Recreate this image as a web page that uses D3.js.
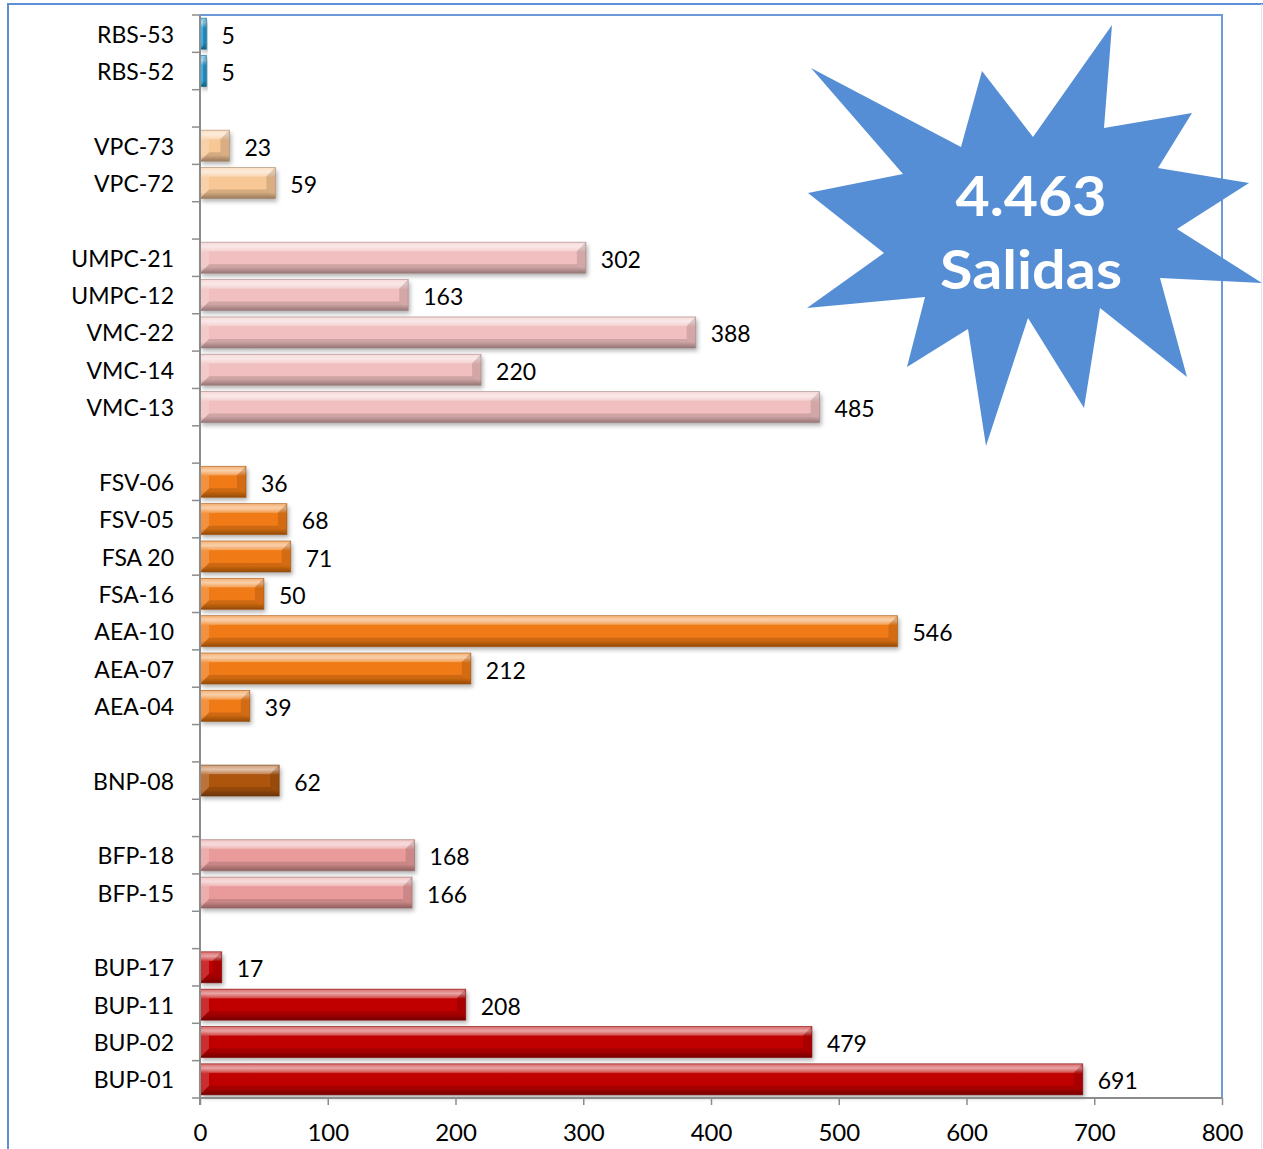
<!DOCTYPE html>
<html>
<head>
<meta charset="utf-8">
<script src="https://cdn.jsdelivr.net/npm/d3@7"></script>
<style>
  html, body { margin: 0; padding: 0; background: #ffffff; }
  svg { display: block; }
  text { font-family: Lato, "Open Sans", sans-serif; fill: #000; }
</style>
</head>
<body>
<script>
// Rows of the chart, top to bottom; empty strings are spacer rows between groups
const categories = ["RBS-53", "RBS-52", "", "VPC-73", "VPC-72", "",
  "UMPC-21", "UMPC-12", "VMC-22", "VMC-14", "VMC-13", "",
  "FSV-06", "FSV-05", "FSA 20", "FSA-16", "AEA-10", "AEA-07", "AEA-04", "",
  "BNP-08", "", "BFP-18", "BFP-15", "", "BUP-17", "BUP-11", "BUP-02", "BUP-01"];
const values = [5, 5, null, 23, 59, null,
  302, 163, 388, 220, 485, null,
  36, 68, 71, 50, 546, 212, 39, null,
  62, null, 168, 166, null, 17, 208, 479, 691];
const groups = ["RBS", "RBS", null, "VPC", "VPC", null,
  "UMV", "UMV", "UMV", "UMV", "UMV", null,
  "FA", "FA", "FA", "FA", "FA", "FA", "FA", null,
  "BNP", null, "BFP", "BFP", null, "BUP", "BUP", "BUP", "BUP"];
const xTicks = [0, 100, 200, 300, 400, 500, 600, 700, 800];
const totalCaption = "Salidas";

// Fill colour for each group
const groupColor = {
  RBS: "#1b9bd6", VPC: "#f8c796", UMV: "#f1bfbf", FA: "#f07a12",
  BNP: "#ad540f", BFP: "#e99b9b", BUP: "#c00000"
};

const W = 1263, H = 1149;
const plot = { left: 200, right: 1222, top: 15, bottom: 1098 };

const svg = d3.select("body").append("svg").attr("width", W).attr("height", H);
const defs = svg.append("defs");

// Soft shadow under the bars
const shadow = defs.append("filter").attr("id", "barShadow")
  .attr("x", "-10%").attr("y", "-30%").attr("width", "130%").attr("height", "180%");
shadow.append("feDropShadow").attr("dx", 2).attr("dy", 3).attr("stdDeviation", 2)
  .attr("flood-color", "#000").attr("flood-opacity", 0.3);

// Vertical shading for the bevelled bars
Object.entries(groupColor).forEach(([k, c]) => {
  const white = d3.interpolateRgb(c, "#ffffff");
  const black = d3.interpolateRgb(c, "#000000");
  const g = defs.append("linearGradient").attr("id", "grad-" + k)
    .attr("x1", 0).attr("y1", 0).attr("x2", 0).attr("y2", 1);
  [[0, white(0.25)], [0.14, white(0.55)], [0.32, c], [0.8, c], [1, black(0.28)]]
    .forEach(([o, col]) => g.append("stop").attr("offset", o).attr("stop-color", col));
});

// Outer frame
svg.append("path").attr("d", `M8,${H} V4 H${W}`)
  .attr("fill", "none").attr("stroke", "#5b8fd6").attr("stroke-width", 2);
svg.append("line").attr("x1", W - 1.5).attr("x2", W - 1.5).attr("y1", 4).attr("y2", H)
  .attr("stroke", "#dbe6f5").attr("stroke-width", 1);

// Scales
const x = d3.scaleLinear().domain([0, 800]).range([plot.left, plot.right]);
const y = d3.scaleBand().domain(d3.range(categories.length))
  .range([plot.top, plot.bottom]).paddingInner(0.17).paddingOuter(0.085);

// Plot area border (top and right)
svg.append("path").attr("d", `M${plot.left},${plot.top} H${plot.right} V${plot.bottom}`)
  .attr("fill", "none").attr("stroke", "#6a9ad9").attr("stroke-width", 2);

// Bars
const rows = categories.map((c, i) => ({ i, name: c, v: values[i], g: groups[i] }))
  .filter(d => d.v !== null);

const bars = svg.append("g").selectAll("g.bar").data(rows).join("g")
  .attr("class", "bar")
  .attr("transform", d => `translate(${x(0)},${y(d.i)})`);

bars.each(function (d) {
  const w = x(d.v) - x(0), h = y.bandwidth();
  const b = Math.min(9, w / 2);
  const c = groupColor[d.g];
  const sel = d3.select(this);
  sel.append("rect").attr("width", w).attr("height", h)
    .attr("fill", `url(#grad-${d.g})`).attr("filter", "url(#barShadow)");
  // bevel facets
  const facets = [
    { p: [[0, 0], [w, 0], [w - b, b], [b, b]], f: "#fff", o: 0.22 },
    { p: [[b, h - b], [w - b, h - b], [w, h], [0, h]], f: "#000", o: 0.14 },
    { p: [[0, 0], [b, b], [b, h - b], [0, h]], f: "#fff", o: 0.18 },
    { p: [[w, 0], [w, h], [w - b, h - b], [w - b, b]], f: "#000", o: 0.12 }
  ];
  facets.forEach(fc => sel.append("polygon")
    .attr("points", fc.p.map(q => q.join(",")).join(" "))
    .attr("fill", fc.f).attr("fill-opacity", fc.o));
  sel.append("rect").attr("width", w).attr("height", h)
    .attr("fill", "none").attr("stroke", d3.interpolateRgb(c, "#000")(0.35))
    .attr("stroke-width", 0.8).attr("stroke-opacity", 0.7);
});

// Value labels
svg.append("g").selectAll("text").data(rows).join("text")
  .attr("x", d => x(d.v) + 15)
  .attr("y", d => y(d.i) + y.bandwidth() / 2 + 10)
  .attr("font-size", 23)
  .text(d => d.v);

// Category axis (left)
const axisColor = "#8c8c8c";
svg.append("line").attr("x1", plot.left).attr("x2", plot.left)
  .attr("y1", plot.top).attr("y2", plot.bottom + 7)
  .attr("stroke", axisColor).attr("stroke-width", 2);
const step = y.step();
svg.append("g").selectAll("line").data(d3.range(categories.length + 1)).join("line")
  .attr("x1", plot.left - 8).attr("x2", plot.left)
  .attr("y1", k => plot.top + k * step).attr("y2", k => plot.top + k * step)
  .attr("stroke", axisColor).attr("stroke-width", 1.5);
svg.append("g").selectAll("text").data(categories.map((c, i) => ({ c, i })).filter(d => d.c))
  .join("text")
  .attr("x", 174).attr("text-anchor", "end")
  .attr("y", d => y(d.i) + y.bandwidth() / 2 + 9)
  .attr("font-size", 23)
  .text(d => d.c);

// Value axis (bottom)
const xAxis = d3.axisBottom(x).tickValues(xTicks).tickSize(7).tickFormat(d3.format("d"));
const gx = svg.append("g").attr("transform", `translate(0,${plot.bottom})`).call(xAxis);
gx.select(".domain").attr("stroke", axisColor).attr("stroke-width", 2)
  .attr("d", `M${plot.left},0H${plot.right}`);
gx.selectAll(".tick line").attr("stroke", axisColor).attr("stroke-width", 1.5);
gx.selectAll(".tick text").attr("font-size", 24).attr("fill", "#000")
  .attr("font-family", "Lato, 'Open Sans', sans-serif").attr("y", 26).attr("dy", "0.71em");

// Starburst call-out with the total
const burst = [[811, 68], [961, 147], [982, 71], [1033, 137], [1112, 25], [1104, 128],
  [1192, 113], [1158, 168], [1249, 183], [1177, 229], [1262, 283], [1160, 278],
  [1187, 377], [1100, 308], [1084, 408], [1028, 318], [986, 446], [968, 329],
  [907, 367], [925, 297], [807, 308], [884, 253], [808, 193], [903, 174]];
svg.append("polygon").attr("points", burst.map(p => p.join(",")).join(" "))
  .attr("fill", "#558ed5");

const total = d3.sum(values);
const fmtTotal = d3.formatLocale({ decimal: ",", thousands: ".", grouping: [3], currency: ["", ""] }).format(",d");
svg.append("text").attr("x", 1031).attr("y", 216).attr("text-anchor", "middle")
  .attr("font-size", 56).attr("font-weight", 700).style("fill", "#fff")
  .attr("font-family", "'Open Sans', Lato, sans-serif")
  .attr("textLength", 151).attr("lengthAdjust", "spacingAndGlyphs")
  .text(fmtTotal(total));
svg.append("text").attr("x", 1031).attr("y", 289).attr("text-anchor", "middle")
  .attr("font-size", 54).attr("font-weight", 700).style("fill", "#fff")
  .attr("font-family", "'Open Sans', Lato, sans-serif")
  .attr("textLength", 182).attr("lengthAdjust", "spacingAndGlyphs")
  .text(totalCaption);
</script>
</body>
</html>
